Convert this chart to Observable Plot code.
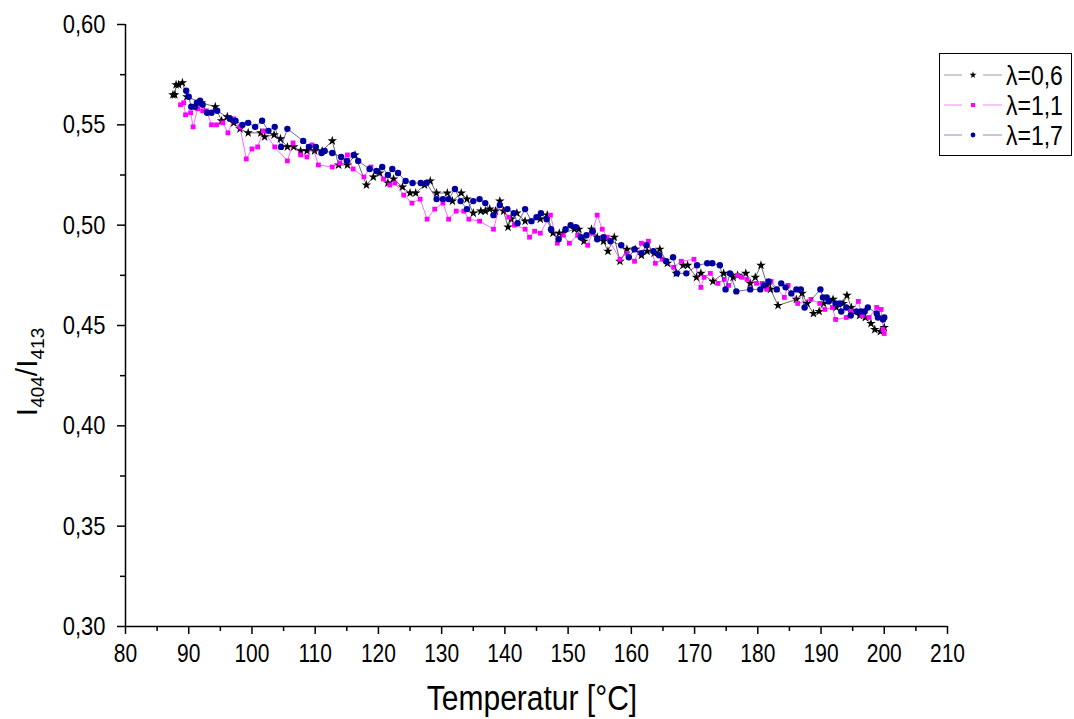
<!DOCTYPE html>
<html><head><meta charset="utf-8">
<script src="https://cdn.jsdelivr.net/npm/d3@7"></script>
<script src="https://cdn.jsdelivr.net/npm/@observablehq/plot@0.6"></script>
<style>
body{margin:0;background:#fff;font-family:"Liberation Sans",Arial,sans-serif}
#wrap{position:relative;width:1074px;height:719px;overflow:hidden}
#legend{position:absolute;left:939px;top:53px;width:131px;height:101px;border:1.5px solid #000;background:#fff}
</style>
</head><body><div id="wrap"></div>
<script>
// λ=0,6 (black stars)
const t06 = [87.5,87.8,88.0,88.4,89.0,89.7,92.0,94.2,95.2,96.1,97.1,98.1,99.4,101.4,102.0,103.5,104.5,105.6,106.6,107.7,108.7,109.9,111.1,112.7,113.7,115.1,116.3,118.1,119.2,120.2,121.5,122.4,123.8,125.0,125.9,127.3,128.2,129.2,130.9,131.7,133.1,134.0,135.0,136.2,136.9,137.6,138.5,139.2,139.8,140.5,141.0,141.9,143.2,145.6,146.7,147.6,148.6,149.2,151.0,151.7,152.5,153.7,154.6,155.6,156.3,157.3,158.2,159.3,160.6,161.6,162.5,163.6,164.5,165.7,167.1,168.2,168.9,170.3,171.0,172.9,174.6,176.1,176.8,178.1,178.8,179.6,180.5,181.5,182.0,183.2,186.1,187.0,187.8,188.8,189.7,190.4,191.9,192.4,193.5,194.1,194.8,196.1,197.0,197.9,198.5,199.4,200.0];
const v06 = [0.565,0.565,0.570,0.570,0.571,0.564,0.561,0.559,0.552,0.554,0.551,0.548,0.546,0.546,0.544,0.545,0.543,0.539,0.539,0.537,0.537,0.537,0.537,0.542,0.530,0.530,0.535,0.520,0.524,0.526,0.521,0.523,0.519,0.516,0.516,0.520,0.522,0.516,0.516,0.512,0.516,0.513,0.506,0.507,0.507,0.508,0.507,0.512,0.507,0.499,0.503,0.506,0.502,0.503,0.505,0.496,0.496,0.496,0.498,0.498,0.492,0.498,0.494,0.492,0.487,0.494,0.482,0.488,0.488,0.485,0.487,0.486,0.488,0.481,0.476,0.480,0.480,0.474,0.476,0.472,0.476,0.474,0.475,0.476,0.471,0.474,0.480,0.470,0.468,0.460,0.463,0.466,0.461,0.456,0.457,0.461,0.463,0.459,0.461,0.465,0.459,0.455,0.454,0.451,0.448,0.447,0.449];
// λ=1,1 (magenta squares)
const t11 = [88.7,89.2,89.5,90.3,90.7,91.4,92.2,92.8,93.6,94.4,95.4,96.2,97.1,98.1,99.1,100.0,100.9,101.8,103.6,105.6,106.5,107.7,108.7,109.5,110.5,112.7,113.9,115.1,116.0,117.7,118.8,120.8,121.8,122.6,124.0,125.3,126.6,127.7,128.9,130.2,131.1,132.3,133.5,134.3,136.0,138.2,139.2,140.6,141.5,143.2,143.9,144.7,145.6,147.2,148.3,149.2,150.2,151.5,153.1,153.8,154.6,155.4,156.2,158.2,159.3,160.5,161.6,162.7,163.8,164.9,166.7,167.9,169.9,171.0,171.5,172.5,173.7,174.7,175.4,176.8,177.5,178.3,179.8,180.7,181.4,182.1,184.2,184.8,186.3,188.4,189.8,190.6,191.8,192.3,194.0,194.7,195.9,196.5,197.6,198.8,199.5,199.8,200.0];
const v11 = [0.560,0.561,0.555,0.556,0.549,0.558,0.557,0.557,0.550,0.550,0.551,0.546,0.553,0.549,0.533,0.538,0.539,0.547,0.539,0.532,0.541,0.535,0.534,0.540,0.530,0.529,0.531,0.535,0.528,0.524,0.529,0.523,0.520,0.521,0.515,0.511,0.513,0.503,0.508,0.511,0.503,0.507,0.507,0.503,0.502,0.498,0.510,0.504,0.500,0.498,0.494,0.497,0.496,0.505,0.491,0.495,0.491,0.495,0.490,0.496,0.505,0.498,0.494,0.483,0.486,0.482,0.491,0.492,0.481,0.483,0.479,0.482,0.483,0.469,0.474,0.476,0.471,0.473,0.470,0.475,0.474,0.473,0.471,0.471,0.468,0.472,0.464,0.470,0.461,0.463,0.461,0.458,0.459,0.453,0.454,0.457,0.462,0.455,0.454,0.459,0.458,0.448,0.446];
// λ=1,7 (blue circles)
const t17 = [89.6,90.0,90.4,91.0,91.3,91.8,92.2,92.9,93.6,94.5,96.5,97.4,98.5,99.4,100.5,101.6,102.6,103.6,104.6,105.6,108.1,109.0,110.1,111.0,111.5,112.7,114.1,115.0,116.1,116.8,118.6,119.7,120.6,121.5,122.2,123.1,124.3,125.4,126.7,127.6,129.2,130.2,131.1,132.1,133.0,134.0,135.0,136.0,136.9,138.2,139.2,140.4,141.4,142.0,143.2,144.2,145.0,145.7,146.6,147.3,148.5,149.6,150.4,151.2,152.0,152.9,153.9,154.6,155.6,156.7,158.4,159.6,160.5,161.6,162.4,163.5,164.4,165.5,166.6,167.2,168.7,170.4,172.0,172.8,174.0,174.9,175.6,176.6,178.8,180.4,181.0,181.7,183.0,183.7,184.4,185.3,186.1,186.8,187.4,189.9,190.3,190.9,191.2,192.3,193.0,193.2,194.0,194.7,195.6,196.3,196.9,197.4,198.8,199.0,199.8,200.0];
const v17 = [0.567,0.564,0.559,0.559,0.561,0.562,0.560,0.556,0.556,0.557,0.553,0.552,0.550,0.551,0.549,0.552,0.547,0.549,0.539,0.548,0.542,0.539,0.539,0.536,0.537,0.536,0.534,0.532,0.535,0.532,0.528,0.527,0.529,0.525,0.528,0.526,0.522,0.521,0.521,0.521,0.513,0.513,0.513,0.518,0.512,0.508,0.512,0.513,0.511,0.505,0.510,0.508,0.506,0.501,0.508,0.502,0.504,0.506,0.503,0.498,0.493,0.498,0.500,0.499,0.494,0.495,0.497,0.493,0.494,0.492,0.490,0.484,0.488,0.486,0.490,0.487,0.485,0.482,0.484,0.476,0.476,0.480,0.481,0.481,0.480,0.468,0.476,0.467,0.468,0.468,0.470,0.472,0.468,0.471,0.469,0.466,0.468,0.468,0.459,0.468,0.464,0.464,0.462,0.461,0.461,0.457,0.459,0.455,0.457,0.457,0.457,0.459,0.456,0.454,0.453,0.454];

const seriesLabels = ["λ=0,6","λ=1,1","λ=1,7"];
const xTicks = [80,90,100,110,120,130,140,150,160,170,180,190,200,210];
const xMinor = [85,95,105,115,125,135,145,155,165,175,185,195,205];
const yTicks = [0.30,0.35,0.40,0.45,0.50,0.55,0.60];
const yMinor = [0.325,0.375,0.425,0.475,0.525,0.575];
const xLabel = "Temperatur [°C]";

const zip = (ts, vs) => ts.slice(0, Math.min(ts.length, vs.length)).map((t, i) => ({T: t, v: vs[i]}));
const d06 = zip(t06, v06), d11 = zip(t11, v11), d17 = zip(t17, v17);

const styles = [
  {data: d06, line: "#000000", legLine: "#808080", fill: "#000000", symbol: "star", r: 3.0, legR: 2.2},
  {data: d11, line: "#ff00ff", legLine: "#ff66ff", fill: "#ff00ff", symbol: "square", r: 2.7, legR: 2.3},
  {data: d17, line: "#000080", legLine: "#7070a0", fill: "#0000a0", symbol: "circle", r: 3.2, legR: 2.4}
];

const comma = d => d3.format(".2f")(d).replace(".", ",");

const marks = [];
for (const s of styles) {
  marks.push(Plot.line(s.data, {x: "T", y: "v", stroke: s.line, strokeWidth: 0.6}));
  marks.push(Plot.dot(s.data, {x: "T", y: "v", symbol: s.symbol, r: s.r, fill: s.fill, stroke: "none"}));
}

const chart = Plot.plot({
  width: 1074, height: 719,
  marginLeft: 125, marginRight: 127, marginTop: 24, marginBottom: 93,
  x: {domain: [80, 210]},
  y: {domain: [0.30, 0.60]},
  style: {fontFamily: "'Liberation Sans', Arial, sans-serif", fontSize: "21px", color: "#000", background: "#fff"},
  marks: [
    Plot.axisX({ticks: xMinor, tickSize: 5, strokeWidth: 1.5, tickFormat: () => "", label: null}),
    Plot.axisX({ticks: xTicks, tickSize: 8, tickPadding: 11, strokeWidth: 1.5, tickFormat: d => String(d), fontSize: 21, label: null}),
    Plot.axisY({ticks: yMinor, tickSize: 5, strokeWidth: 1.5, tickFormat: () => "", label: null}),
    Plot.axisY({ticks: yTicks, tickSize: 8, tickPadding: 12, strokeWidth: 1.5, tickFormat: comma, fontSize: 22, label: null}),
    Plot.ruleX([80], {strokeWidth: 1.5}),
    Plot.ruleY([0.30], {strokeWidth: 1.5}),
    ...marks
  ]
});

const wrap = document.getElementById("wrap");
wrap.appendChild(chart);
const svg = d3.select(chart);

// stretch horizontal text vertically around its own centre (reference glyphs are tall)
function stretch(nodes, k) {
  nodes.forEach(node => {
    if (!node.textContent) return;
    const b = node.getBBox();
    const cx = b.x + b.width / 2, cy = b.y + b.height / 2;
    const t = node.getAttribute("transform") || "";
    node.setAttribute("transform", `${t} translate(${cx},${cy}) scale(1,${k}) translate(${-cx},${-cy})`);
  });
}
stretch(Array.from(chart.querySelectorAll("text")), 1.2);

const xl = svg.append("text")
  .attr("x", 532).attr("y", 708)
  .attr("text-anchor", "middle")
  .attr("font-size", 30)
  .attr("fill", "#000")
  .text(xLabel);
stretch([xl.node()], 1.15);

const yl = svg.append("text")
  .attr("transform", "translate(37,372) rotate(-90)")
  .attr("text-anchor", "middle")
  .attr("font-size", 30)
  .attr("fill", "#000");
yl.append("tspan").text("I");
yl.append("tspan").attr("font-size", 19).attr("dy", 7).text("404");
yl.append("tspan").attr("dy", -7).text("/I");
yl.append("tspan").attr("font-size", 19).attr("dy", 7).text("413");

// legend
const leg = document.createElement("div");
leg.id = "legend";
wrap.appendChild(leg);
const ls = d3.select(leg).append("svg").attr("width", 131).attr("height", 101);
const symMap = {star: d3.symbolStar, square: d3.symbolSquare, circle: d3.symbolCircle};
const rowY = [21, 51, 81];
const legTexts = [];
styles.forEach((s, i) => {
  const g = ls.append("g").attr("transform", `translate(0,${rowY[i]})`);
  g.append("line").attr("x1", 4).attr("x2", 22).attr("y1", 0).attr("y2", 0)
    .attr("stroke", s.legLine).attr("stroke-width", 0.8);
  g.append("line").attr("x1", 43).attr("x2", 62).attr("y1", 0).attr("y2", 0)
    .attr("stroke", s.legLine).attr("stroke-width", 0.8);
  g.append("path").attr("transform", "translate(33,0)")
    .attr("d", d3.symbol(symMap[s.symbol], Math.PI * s.legR * s.legR)())
    .attr("fill", s.fill);
  const tx = g.append("text").attr("x", 66).attr("y", 0).attr("dy", "0.35em")
    .attr("font-size", 23).attr("font-family", "'Liberation Sans', Arial, sans-serif")
    .attr("fill", "#000").text(seriesLabels[i]);
  legTexts.push(tx.node());
});
stretch(legTexts, 1.2);
</script>
</body></html>
